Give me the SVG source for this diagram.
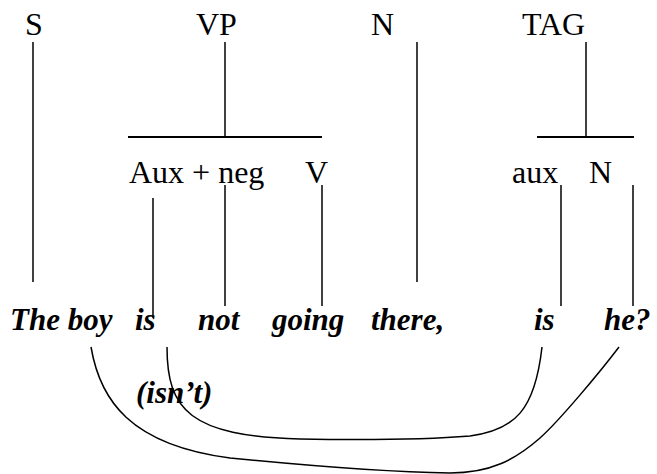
<svg xmlns="http://www.w3.org/2000/svg" width="657" height="474" viewBox="0 0 657 474">
<style>
.lbl{font-family:"Liberation Serif","Times New Roman",serif;font-size:32px;fill:#000}
.wd{font-family:"Liberation Serif","Times New Roman",serif;font-size:31px;font-weight:bold;font-style:italic;fill:#000}
.ln{stroke:#000;stroke-width:1.5;fill:none}
.bar{stroke:#000;stroke-width:2;fill:none}
</style>
<rect width="657" height="474" fill="#fff"/>
<g id="node-S"><text class="lbl" x="25" y="35">S</text></g>
<g id="node-VP"><text class="lbl" x="196" y="35">VP</text></g>
<g id="node-N"><text class="lbl" x="371" y="35">N</text></g>
<g id="node-TAG"><text class="lbl" x="522" y="35">TAG</text></g>
<g id="node-AuxNeg"><text class="lbl" x="129" y="183">Aux + neg</text></g>
<g id="node-V"><text class="lbl" x="305" y="183">V</text></g>
<g id="node-aux"><text class="lbl" x="512" y="183">aux</text></g>
<g id="node-N2"><text class="lbl" x="589" y="183">N</text></g>
<g id="node-words">
<text class="wd" x="10" y="330">The boy</text>
<text class="wd" x="135" y="330">is</text>
<text class="wd" x="198" y="330">not</text>
<text class="wd" x="272" y="330">going</text>
<text class="wd" x="371" y="330">there,</text>
<text class="wd" x="534" y="330">is</text>
<text class="wd" x="604" y="330">he?</text>
</g>
<g id="node-isnt"><text class="wd" x="136" y="403">(isn’t)</text></g>
<g id="connectors">
<line class="ln" x1="33" y1="42" x2="33" y2="282"/>
<line class="ln" x1="225" y1="42" x2="225" y2="137"/>
<line class="bar" x1="128" y1="137" x2="322" y2="137"/>
<line class="ln" x1="153" y1="198" x2="153" y2="318"/>
<line class="ln" x1="225" y1="185" x2="225" y2="306"/>
<line class="ln" x1="322" y1="185" x2="322" y2="306"/>
<line class="ln" x1="417" y1="42" x2="417" y2="282"/>
<line class="ln" x1="586" y1="42" x2="586" y2="137"/>
<line class="bar" x1="537" y1="137" x2="634" y2="137"/>
<line class="ln" x1="561" y1="185" x2="561" y2="306"/>
<line class="ln" x1="633" y1="185" x2="633" y2="306"/>
<path class="ln" d="M167,347 C167,410 190,436 300,439 C360,440 420,440 470,436 C515,430 535,410 542,347"/>
<path class="ln" d="M91,347 C100,400 130,445 230,458 C300,465 380,472 450,473 C490,473 515,460 540,438 C560,420 600,372 619,347"/>
</g>
</svg>
